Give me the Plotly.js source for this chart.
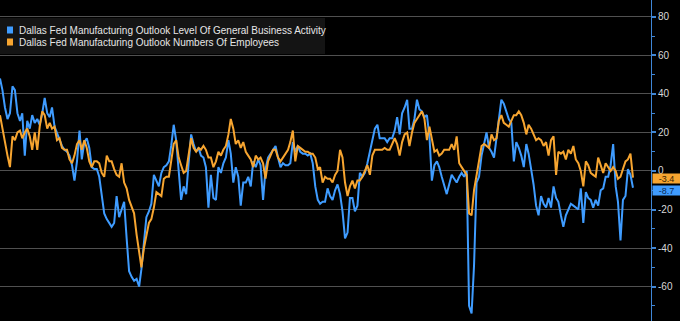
<!DOCTYPE html>
<html>
<head>
<meta charset="utf-8">
<script src="https://cdn.plot.ly/plotly-3.0.1.min.js"></script>
<style>html,body{margin:0;padding:0;background:#000;}#chart{width:680px;height:321px;}</style>
</head>
<body>
<div id="chart"></div>
<script>
// Monthly series, June 2004 - September 2025
const startYear = 2004, startMonth = 6;
const seriesNames = [
  'Dallas Fed Manufacturing Outlook Level Of General Business Activity',
  'Dallas Fed Manufacturing Outlook Numbers Of Employees'
];
const businessActivity = [
  48, 42, 33, 27, 30, 44, 42, 30, 26, 30, 8, 26, 22, 29, 25, 27, 24, 30, 38, 30, 28, 33, 23, 20, 16, 13, 11, 10, 8, 3, -5, 5, 21, 6, 15, 17, 12,
  2, 1, 1, -3, -14, -22, -25, -27, -29, -27, -13, -24, -20, -16, -35, -52, -55, -57, -56, -60, -51, -36, -24, -21, -17, -2, -5, -8, -1, 2, 3, 5, 13, 24, 16, 0, -15,
  -8, -12, 4, 19, 14, 10, 12, 8, 7, 2, -19, -2, -14, -15, 2, -1, 4, 7, 16, 9, -6, 2, -3, -18, -6, -6, -3, -8, 5, 2, 6, 3, -15, 1, 7, 9, 11,
  13, 7, 2, 4, 3, 3, 4, 15, 10, 13, 10, 9, 9, 8, 9, 4, -8, -15, -17, -16, -16, -9, -13, -15, -10, -7, -12, -21, -35, -32, -14, -14, -21, -18, -1, -3, -1,
  4, 11, 16, 22, 24, 17, 17, 17, 15, 17, 17, 21, 28, 19, 30, 33, 37, 22, 22, 27, 37, 32, 31, 28, 29, 18, -5, 3, 5, 2, -3, -7, -12, -7, -2, -4, -6, -3,
  -1, -3, 0, -70, -74,
  -49, -6, -3, 8, 14, 20, 12, 10, 7, 17, 29, 37, 35, 31, 27, 25, 5, 15, 12, 8, 2, 14, 9, 1, -7, -18, -23, -13, -17, -19, -14, -19,
  -8, -14, -16, -23, -29, -23, -20, -17, -18, -19, -20, -9, -27, -11, -14, -15, -19, -15, -18, -10, -9, -3, -3, 3, 14, -8, -16, -36, -15, -13, 1, -2, -8.7
];
const employees = [
  29, 22, 14, 8, 2, 18, 16, 20, 21, 17, 20, 22, 18, 11, 20, 11, 23, 31, 29, 22, 25, 22, 23, 16, 17, 12, 11, 11, 6, 4, 8, 14, 16, 11, 16, 12, 5,
  2, 5, 5, 4, -1, -3, 8, 5, 5, 1, -2, -3, 4, -6, -9, -15, -19, -22, -33, -43, -50, -40, -33, -27, -25, -19, -11, -12, -13, -4, -3, -3, 4, 14, 16, 7, 3,
  -1, 0, 9, 17, 12, 10, 12, 11, 13, 11, 7, 7, 2, 5, 10, 8, 11, 13, 19, 27, 22, 14, 16, 12, 15, 10, 8, 6, 2, 8, 6, 7, 4, -4, 5, 8, 11,
  11, 7, 5, 7, 9, 11, 15, 21, 5, 13, 12, 11, 10, 10, 9, 9, 7, 1, 2, -6, -3, -4, -4, -6, -2, 0, 11, 7, -6, -13, -8, -5, -9, -5, -5, -3, 0,
  3, -2, 8, 11, 11, 11, 11, 12, 11, 11, 14, 17, 14, 8, 15, 19, 20, 13, 20, 25, 27, 29, 31, 27, 16, 23, 16, 10, 11, 8, 9, 11, 11, 11, 14, 11, 18, 4,
  2, 0, -2, -22, -23, -10, -2, 5, 13, 14, 13, 12, 19, 16, 17, 26, 29, 25, 24, 23, 26, 29, 29, 31, 29, 25, 19, 24, 22, 19, 16, 17, 16, 13, 15, 8, 16,
  18, -2, 10, 9, 10, 6, 11, 9, 13, 6, 4, 0, -8, 5, 3, -1, -2, -3, 7, 3, -1, 4, 2, 0, 2, 0, -4, -3, 1, 5, 6, 9, -3.4
];
const yTicks = [-60, -40, -20, 0, 20, 40, 60, 80];

const colors = ['#3f9cff', '#f7a530'];

const dates = businessActivity.map((_, i) => {
  const t = (startMonth - 1) + i;
  const y = startYear + Math.floor(t / 12);
  const m = (t % 12) + 1;
  return y + '-' + String(m).padStart(2, '0') + '-01';
});

const traces = [
  {x: dates, y: businessActivity, type: 'scatter', mode: 'lines', name: seriesNames[0],
   line: {color: colors[0], width: 2}},
  {x: dates, y: employees, type: 'scatter', mode: 'lines', name: seriesNames[1],
   line: {color: colors[1], width: 2}}
];

const lastB = businessActivity[businessActivity.length - 1];
const lastE = employees[employees.length - 1];
const font = 'Liberation Sans, Arial, sans-serif';

const H = 321, W = 651;
const layout = {
  width: 680, height: 321,
  paper_bgcolor: '#000', plot_bgcolor: '#000',
  margin: {l: 0, r: 29, t: 0, b: 0, pad: 0},
  showlegend: false,
  xaxis: {type: 'date', range: ['2004-06-01', '2026-04-10'], showgrid: false, zeroline: false,
          showticklabels: false, showline: false, ticks: ''},
  yaxis: {side: 'right', range: [-77.9, 88.8], tickvals: yTicks, ticktext: yTicks.map(String),
          showgrid: true, gridcolor: '#505050', gridwidth: 1, zeroline: false,
          showline: true, linecolor: '#3f86d6', linewidth: 1,
          ticks: 'outside', ticklen: 4, tickwidth: 2, tickcolor: '#3f86d6',
          minor: {dtick: 10, ticks: 'outside', ticklen: 3, tickcolor: '#3f86d6', tickwidth: 1, showgrid: false},
          tickfont: {family: font, size: 10, color: '#d8d8d8'}},
  shapes: [
    {type: 'rect', xref: 'paper', yref: 'paper', x0: 0, x1: 325 / W, y0: 1 - 54 / H, y1: 1 - 18 / H,
     fillcolor: '#141414', line: {width: 0}, layer: 'above'},
    {type: 'rect', xref: 'paper', yref: 'paper', x0: 7 / W, x1: 13 / W, y0: 1 - 33.5 / H, y1: 1 - 26.5 / H,
     fillcolor: colors[0], line: {width: 0}, layer: 'above'},
    {type: 'rect', xref: 'paper', yref: 'paper', x0: 7 / W, x1: 13 / W, y0: 1 - 45.5 / H, y1: 1 - 38.5 / H,
     fillcolor: colors[1], line: {width: 0}, layer: 'above'}
  ],
  annotations: [
    {xref: 'paper', yref: 'paper', x: 17 / W, y: 1 - 30 / H, xanchor: 'left', yanchor: 'middle',
     text: seriesNames[0], showarrow: false, font: {family: font, size: 10, color: '#e6e6e6'}},
    {xref: 'paper', yref: 'paper', x: 17 / W, y: 1 - 42.5 / H, xanchor: 'left', yanchor: 'middle',
     text: seriesNames[1], showarrow: false, font: {family: font, size: 10, color: '#e6e6e6'}},
    {xref: 'paper', yref: 'y', x: 1, y: lastE, xanchor: 'left', yanchor: 'middle', xshift: 1, yshift: -1,
     width: 27, height: 9, align: 'center',
     text: lastE.toFixed(1), showarrow: false, bgcolor: colors[1], borderpad: 0,
     font: {family: font, size: 9, color: '#3a2400'}},
    {xref: 'paper', yref: 'y', x: 1, y: lastB, xanchor: 'left', yanchor: 'middle', xshift: 1, yshift: -3,
     width: 27, height: 9, align: 'center',
     text: lastB.toFixed(1), showarrow: false, bgcolor: colors[0], borderpad: 0,
     font: {family: font, size: 9, color: '#0a2a55'}}
  ]
};

Plotly.newPlot('chart', traces, layout, {displayModeBar: false, staticPlot: true});
</script>
</body>
</html>
